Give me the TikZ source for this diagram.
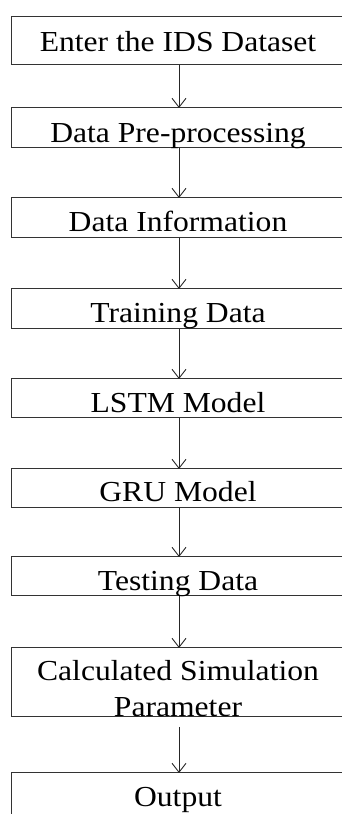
\documentclass[tikz,border=0pt]{standalone}
\usepackage{fontspec}
\setmainfont{Liberation Serif}[FakeStretch=1.09]
\usetikzlibrary{arrows.meta}
\tikzset{
  box/.style={draw=black!80, line width=1pt, minimum width=336pt, inner sep=0pt, outer sep=0pt},
  lbl/.style={anchor=base, inner sep=0pt, font=\fontsize{29}{36}\selectfont},
  conn/.style={draw=black!85, line width=0.9pt, -{Straight Barb[length=9pt,width=14pt,line width=0.9pt]}}
}
\begin{document}
\begin{tikzpicture}[x=1pt,y=1pt]
\useasboundingbox (0,0) rectangle (342,814);
\begin{scope}
\clip (0,0) rectangle (342,814);
% boxes: centre x = 179, y given in pixel coordinates from top
\node[box, minimum height=48pt] (b1) at (179,{814-41}) {};
\node[box, minimum height=40pt] (b2) at (179,{814-128}) {};
\node[box, minimum height=40pt] (b3) at (179,{814-218}) {};
\node[box, minimum height=40pt] (b4) at (179,{814-309}) {};
\node[box, minimum height=39pt] (b5) at (179,{814-398.5}) {};
\node[box, minimum height=39pt] (b6) at (179,{814-488.5}) {};
\node[box, minimum height=39pt] (b7) at (179,{814-576.5}) {};
\node[box, minimum height=69pt] (b8) at (179,{814-682.5}) {};
\node[box, minimum height=60pt] (b9) at (179,{814-803}) {};
% labels
\node[lbl] (t1) at (178,{814-52}) {Enter the IDS Dataset};
\node[lbl] (t2) at (178,{814-143}) {Data Pre-processing};
\node[lbl] (t3) at (178,{814-232}) {Data Information};
\node[lbl] (t4) at (178,{814-323}) {Training Data};
\node[lbl] (t5) at (178,{814-413}) {LSTM Model};
\node[lbl] (t6) at (178,{814-502}) {GRU Model};
\node[lbl] (t7) at (178,{814-591}) {Testing Data};
\node[lbl] (t8a) at (178,{814-681}) {Calculated Simulation};
\node[lbl] (t8b) at (178,{814-717}) {Parameter};
\node[lbl] (t9) at (178,{814-806}) {Output};
% connectors
\draw[conn] (b1.south) -- (b2.north);
\draw[conn] (b2.south) -- (b3.north);
\draw[conn] (b3.south) -- (b4.north);
\draw[conn] (b4.south) -- (b5.north);
\draw[conn] (b5.south) -- (b6.north);
\draw[conn] (b6.south) -- (b7.north);
\draw[conn] (b7.south) -- (b8.north);
\draw[conn] ([yshift=-10pt]b8.south) -- (b9.north);
\end{scope}
\end{tikzpicture}
\end{document}
